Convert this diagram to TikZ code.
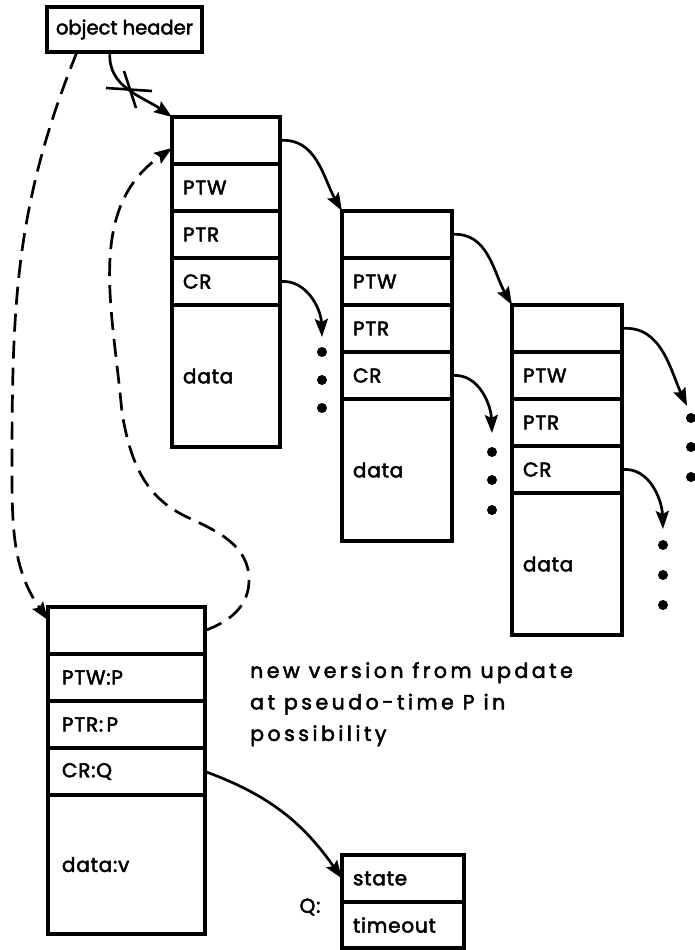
\documentclass[tikz,border=0pt]{standalone}
\usepackage{fontspec}
\setmainfont{Poppins}[FakeBold=2.5]
\usetikzlibrary{arrows.meta,calc}
\newcommand\recbox[9]{%
  \node[cell, minimum width=#4, text width=#5] (#1a) at (#2,#3) {};
  \node[cell, minimum width=#4, text width=#5] (#1b) at (#1a.south west) {#6};
  \node[cell, minimum width=#4, text width=#5] (#1c) at (#1b.south west) {#7};
  \node[cell, minimum width=#4, text width=#5] (#1d) at (#1c.south west) {#8};
  \node[cell, minimum width=#4, text width=#5, minimum height=142pt] (#1e) at (#1d.south west) {#9};
}
\begin{document}
\begin{tikzpicture}[x=1pt,y=1pt,
  txt/.style={font=\fontsize{20}{22}\selectfont\addfontfeature{LetterSpace=4}},
  cell/.style={draw, line width=3.3pt, anchor=north west, inner sep=0pt, outer sep=0pt,
    minimum height=47pt, align=left, txt},
  arr/.style={line width=2.7pt, -{Stealth[length=18pt,width=13pt,inset=3pt]}},
  dsh/.style={arr, dash pattern=on 18pt off 9pt},
  dotc/.style={circle, fill, inner sep=0pt, minimum size=10pt}
]
\useasboundingbox (0,0) rectangle (694,-950);
% header
\node[draw, line width=3.6pt, anchor=north west, minimum width=155pt, minimum height=45pt,
  inner sep=0pt, outer sep=0pt, font=\fontsize{19.5}{22}\selectfont] (hdr) at (47,-7) {object header};
% records
\recbox{r1}{172}{-117}{108pt}{86pt}{PTW}{PTR}{CR}{data}
\recbox{r2}{342}{-211}{110pt}{88pt}{PTW}{PTR}{CR}{data}
\recbox{r3}{512}{-305}{110pt}{88pt}{PTW}{PTR}{CR}{data}
% new version record
\node[cell, minimum width=157pt, text width=129pt] (r4a) at (48,-607) {};
\node[cell, minimum width=157pt, text width=129pt] (r4b) at (r4a.south west) {PTW:P};
\node[cell, minimum width=157pt, text width=129pt] (r4c) at (r4b.south west) {PTR:\,P};
\node[cell, minimum width=157pt, text width=129pt] (r4d) at (r4c.south west) {CR:Q};
\node[cell, minimum width=157pt, text width=129pt, minimum height=139pt] (r4e) at (r4d.south west) {data:v};
% Q box
\node[cell, minimum width=122pt, text width=100pt] (qa) at (342,-855) {state};
\node[cell, minimum width=122pt, text width=100pt, minimum height=46pt] (qb) at (qa.south west) {timeout};
\node[txt] (qlab) at (310,-907) {Q:};
% annotation
\node[anchor=north west, align=left, inner sep=0pt,
  font=\fontsize{20.5}{31.5}\selectfont\addfontfeature{LetterSpace=17}] (note) at (250,-662)
  {new version from update\\at pseudo-time P in\\possibility};
% dots
\foreach \n/\x/\y in {a1/322/352,a2/322/380,a3/322/408,
                      b1/492/452,b2/492/480,b3/492/510,
                      c1/663/545,c2/663/575,c3/663/605,
                      d1/691/418,d2/691/447,d3/691/477}
  \node[dotc] (dot\n) at (\x,-\y) {};
\coordinate (e1) at (322,-337);
\coordinate (e2) at (492,-433);
\coordinate (e3) at (663,-529);
\coordinate (e4) at (687,-406);
% solid arrows between records
\draw[arr] (r1a.east) to[out=5,in=120] (r2a.north west);
\draw[arr] (r2a.east) to[out=5,in=120] (r3a.north west);
\draw[arr] (r3a.east) to[out=5,in=115] (e4);
\draw[arr] (r1d.east) to[out=5,in=92] (e1);
\draw[arr] (r2d.east) to[out=5,in=92] (e2);
\draw[arr] (r3d.east) to[out=5,in=92] (e3);
\draw[arr] (r4d.east) to[out=-20,in=125] (qa.west);
% header -> first record (crossed out)
\coordinate (hs) at ($(hdr.south west)+(63,0)$);
\draw[arr] (hs) to[out=-95,in=145] (r1a.north west);
\draw[line width=2.6pt] (106,-88) -- (152,-91);
\draw[line width=2.6pt] (124,-71) -- (136,-108);
% dashed: header -> new version
\coordinate (hs2) at ($(hdr.south west)+(30,0)$);
\coordinate (t1) at ($(r4a.north west)+(0,-13)$);
\draw[dsh] (hs2) to[out=-112,in=90] (12,-470) to[out=-90,in=125] (t1);
% dashed: new version -> first record
\coordinate (t2) at ($(r1a.south west)+(0,16)$);
\draw[dsh] (r4a.east) to[out=20,in=-90] (249,-580) to[out=90,in=-25] (187,-517)
  to[out=155,in=-80] (122,-413) to[out=95,in=-145] (t2);
\end{tikzpicture}
\end{document}
